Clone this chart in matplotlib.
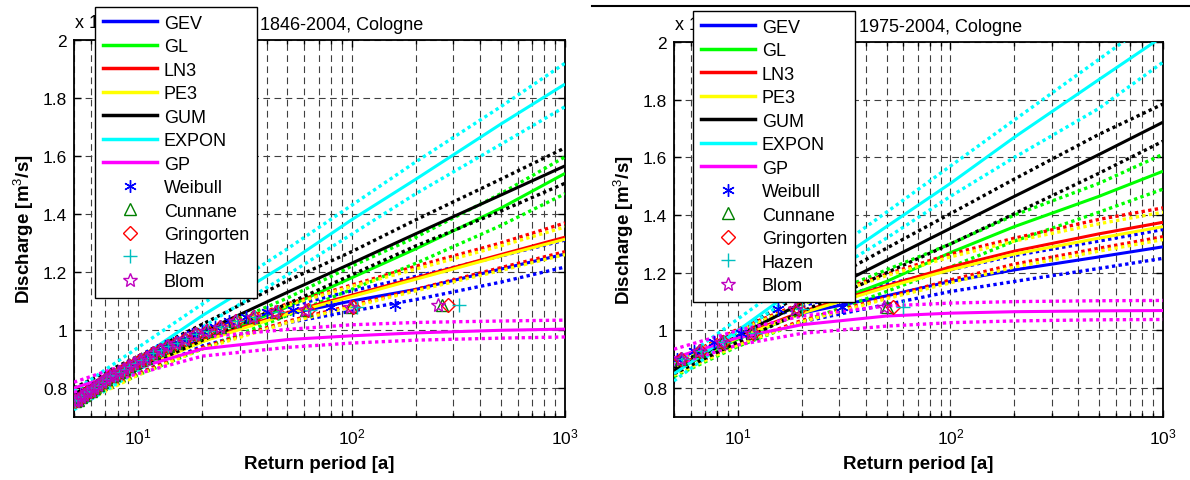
import numpy as np
import matplotlib
matplotlib.use('Agg')
import matplotlib.pyplot as plt
from matplotlib.lines import Line2D

plt.rcParams['font.family'] = 'Liberation Sans'
plt.rcParams['mathtext.fontset'] = 'custom'
plt.rcParams['mathtext.rm'] = 'Liberation Sans'
plt.rcParams['mathtext.bf'] = 'Liberation Sans:bold'

# return periods [a] at which the fitted quantiles are tabulated
T = [5, 10, 20, 50, 100, 200, 500, 1000]

# quantiles in 10^4 m3/s, annual maxima 1846-2004 (fit, lower, upper bound)
gev_a    = [0.76, 0.87, 0.970, 1.055, 1.100, 1.140, 1.210, 1.262]
gev_a_lo = [0.74, 0.85, 0.945, 1.025, 1.065, 1.105, 1.165, 1.217]
gev_a_hi = [0.78, 0.89, 0.990, 1.080, 1.135, 1.185, 1.255, 1.310]
gl_a     = [0.77, 0.87, 0.960, 1.080, 1.180, 1.280, 1.420, 1.540]
gl_a_lo  = [0.745, 0.845, 0.935, 1.050, 1.140, 1.230, 1.360, 1.470]
gl_a_hi  = [0.79, 0.89, 0.985, 1.110, 1.220, 1.320, 1.470, 1.597]
ln3_a    = [0.76, 0.87, 0.965, 1.060, 1.120, 1.180, 1.260, 1.320]
ln3_a_lo = [0.74, 0.85, 0.940, 1.030, 1.085, 1.140, 1.215, 1.270]
ln3_a_hi = [0.78, 0.89, 0.990, 1.090, 1.155, 1.220, 1.300, 1.369]
pe3_a    = [0.755, 0.865, 0.960, 1.055, 1.115, 1.175, 1.255, 1.313]
pe3_a_lo = [0.735, 0.845, 0.935, 1.025, 1.080, 1.135, 1.205, 1.260]
pe3_a_hi = [0.775, 0.885, 0.985, 1.085, 1.150, 1.210, 1.290, 1.355]
gum_a    = [0.78, 0.888, 0.993, 1.130, 1.230, 1.332, 1.465, 1.566]
gum_a_lo = [0.755, 0.865, 0.965, 1.090, 1.190, 1.290, 1.410, 1.506]
gum_a_hi = [0.80, 0.910, 1.020, 1.170, 1.270, 1.380, 1.520, 1.628]
exp_a    = [0.76, 0.90, 1.05, 1.23, 1.38, 1.52, 1.71, 1.848]
exp_a_lo = [0.725, 0.86, 1.01, 1.19, 1.33, 1.47, 1.64, 1.77]
exp_a_hi = [0.79, 0.94, 1.09, 1.28, 1.43, 1.58, 1.77, 1.92]
gp_a     = [0.80, 0.87, 0.935, 0.967, 0.980, 0.990, 0.999, 1.003]
gp_a_lo  = [0.785, 0.85, 0.910, 0.940, 0.955, 0.965, 0.972, 0.976]
gp_a_hi  = [0.82, 0.895, 0.975, 1.002, 1.018, 1.026, 1.031, 1.034]

# quantiles in 10^4 m3/s, annual maxima 1975-2004
gev_b    = [0.87, 0.98, 1.060, 1.120, 1.170, 1.210, 1.255, 1.290]
gev_b_lo = [0.85, 0.955, 1.030, 1.090, 1.135, 1.170, 1.215, 1.250]
gev_b_hi = [0.89, 1.00, 1.085, 1.160, 1.210, 1.260, 1.310, 1.350]
gl_b     = [0.86, 0.97, 1.060, 1.170, 1.270, 1.360, 1.465, 1.552]
gl_b_lo  = [0.84, 0.945, 1.030, 1.135, 1.220, 1.310, 1.410, 1.490]
gl_b_hi  = [0.88, 0.995, 1.090, 1.210, 1.300, 1.400, 1.510, 1.611]
ln3_b    = [0.87, 0.98, 1.065, 1.155, 1.220, 1.275, 1.335, 1.375]
ln3_b_lo = [0.85, 0.955, 1.035, 1.115, 1.175, 1.230, 1.285, 1.325]
ln3_b_hi = [0.89, 1.005, 1.095, 1.195, 1.265, 1.320, 1.385, 1.425]
pe3_b    = [0.865, 0.975, 1.060, 1.150, 1.210, 1.265, 1.320, 1.360]
pe3_b_lo = [0.845, 0.95, 1.030, 1.110, 1.165, 1.220, 1.275, 1.315]
pe3_b_hi = [0.885, 1.00, 1.090, 1.190, 1.255, 1.310, 1.370, 1.410]
gum_b    = [0.861, 0.981, 1.095, 1.243, 1.354, 1.465, 1.610, 1.722]
gum_b_lo = [0.85, 0.96, 1.065, 1.200, 1.300, 1.405, 1.545, 1.656]
gum_b_hi = [0.87, 1.00, 1.125, 1.285, 1.405, 1.525, 1.680, 1.785]
exp_b    = [0.85, 1.00, 1.16, 1.36, 1.51, 1.67, 1.87, 2.02]
exp_b_lo = [0.825, 0.99, 1.14, 1.32, 1.465, 1.60, 1.77, 1.93]
exp_b_hi = [0.88, 1.04, 1.20, 1.41, 1.57, 1.73, 1.94, 2.10]
gp_b     = [0.905, 0.975, 1.020, 1.050, 1.060, 1.065, 1.068, 1.069]
gp_b_lo  = [0.88, 0.95, 0.990, 1.015, 1.027, 1.033, 1.037, 1.038]
gp_b_hi  = [0.935, 1.00, 1.050, 1.085, 1.095, 1.100, 1.103, 1.104]

# largest observed annual maxima (10^4 m3/s), in descending order
amax_a = [1.086, 1.080, 1.069, 1.062, 1.045, 1.030, 1.010, 0.995, 0.985, 0.970,
          0.955, 0.945, 0.930, 0.920, 0.905, 0.895, 0.885, 0.875, 0.865, 0.855,
          0.845, 0.840, 0.830, 0.820, 0.810, 0.800, 0.790, 0.785, 0.775, 0.770,
          0.760, 0.755]
n_a = 159
amax_b = [1.083, 1.073, 0.990, 0.960, 0.930, 0.900, 0.880, 0.860]
n_b = 30

dist_names = ['GEV', 'GL', 'LN3', 'PE3', 'GUM', 'EXPON', 'GP']
dist_colors = ['#0000ff', '#00ff00', '#ff0000', '#ffff00', '#000000', '#00ffff', '#ff00ff']

# plotting positions: name, alpha, marker, colour, size
pp_methods = [
    ('Weibull', 0.0, (6, 2, 0), '#0000ff', 9),
    ('Cunnane', 0.4, '^', '#008000', 8),
    ('Gringorten', 0.44, 'D', '#ff0000', 7),
    ('Hazen', 0.5, '+', '#00bfbf', 10),
    ('Blom', 0.375, '*', '#bf00bf', 10),
]

curves_a = [(gev_a, gev_a_lo, gev_a_hi), (gl_a, gl_a_lo, gl_a_hi),
            (ln3_a, ln3_a_lo, ln3_a_hi), (pe3_a, pe3_a_lo, pe3_a_hi),
            (gum_a, gum_a_lo, gum_a_hi), (exp_a, exp_a_lo, exp_a_hi),
            (gp_a, gp_a_lo, gp_a_hi)]
curves_b = [(gev_b, gev_b_lo, gev_b_hi), (gl_b, gl_b_lo, gl_b_hi),
            (ln3_b, ln3_b_lo, ln3_b_hi), (pe3_b, pe3_b_lo, pe3_b_hi),
            (gum_b, gum_b_lo, gum_b_hi), (exp_b, exp_b_lo, exp_b_hi),
            (gp_b, gp_b_lo, gp_b_hi)]

W, H = 1190, 481
fig = plt.figure(figsize=(W / 100, H / 100), dpi=100)


def draw_panel(rect, curves, amax, n, title, legend_xy):
    ax = fig.add_axes(rect)
    dotted = (0, (1, 1))
    for (fit, lo, hi), c in zip(curves, dist_colors):
        ax.plot(T, fit, color=c, lw=2.2, solid_capstyle='butt', zorder=3)
        ax.plot(T, lo, color=c, lw=2.4, ls=dotted, dash_capstyle='butt', zorder=3)
        ax.plot(T, hi, color=c, lw=2.4, ls=dotted, dash_capstyle='butt', zorder=3)

    rank = np.arange(1, len(amax) + 1)
    for name, a, mk, c, ms in pp_methods:
        tp = (n + 1 - 2 * a) / (rank - a)
        ax.plot(tp, amax, ls='none', marker=mk, ms=ms, mec=c, mfc='none',
                mew=1.0, zorder=4)

    ax.set_xscale('log')
    ax.set_xlim(5, 1000)
    ax.set_ylim(0.7, 2.0)
    ax.set_yticks([0.8, 1.0, 1.2, 1.4, 1.6, 1.8, 2.0])
    ax.set_yticklabels(['0.8', '1', '1.2', '1.4', '1.6', '1.8', '2'])
    ax.tick_params(which='both', direction='in', top=True, right=True,
                   labelsize=12.5, width=1.0)
    ax.tick_params(which='major', length=5)
    ax.tick_params(which='minor', length=3)
    ax.tick_params(axis='x', which='major', pad=7)
    ax.tick_params(axis='y', which='major', pad=5)
    grid_kw = dict(color='0.25', lw=0.8, ls=(0, (6, 4)))
    ax.grid(True, which='major', axis='both', **grid_kw)
    ax.grid(True, which='minor', axis='x', **grid_kw)
    for sp in ax.spines.values():
        sp.set_linewidth(1.3)

    ax.set_xlabel('Return period [a]', fontsize=13.5, fontweight='bold', labelpad=6)
    ax.set_ylabel('Discharge [m$^3$/s]', fontsize=13.5, fontweight='bold', labelpad=5)
    ax.set_title(title, fontsize=13, pad=8)
    ax.text(0.0, 1.02, r'x 10$^4$', transform=ax.transAxes, fontsize=13,
            ha='left', va='bottom', zorder=1)

    handles = [Line2D([], [], color=c, lw=2.5) for c in dist_colors]
    handles += [Line2D([], [], ls='none', marker=mk, ms=ms, mec=c, mfc='none', mew=1.0)
                for _, _, mk, c, ms in pp_methods]
    labels = dist_names + [m[0] for m in pp_methods]
    leg = ax.legend(handles, labels, loc='upper left',
                    bbox_to_anchor=legend_xy, bbox_transform=fig.transFigure,
                    fontsize=13, frameon=True, fancybox=False, framealpha=1,
                    edgecolor='k', handlelength=3.0, handletextpad=0.4,
                    labelspacing=0.36, borderpad=0.42, borderaxespad=0,
                    numpoints=1)
    leg.get_frame().set_linewidth(1.0)
    leg.set_zorder(10)
    return ax


draw_panel([74 / W, 1 - 418 / H, (565 - 74) / W, (418 - 41) / H],
           curves_a, amax_a, n_a, 'AMS 1846-2004, Cologne', (95 / W, 1 - 8 / H))
draw_panel([674 / W, 1 - 418 / H, (1163 - 674) / W, (418 - 43) / H],
           curves_b, amax_b, n_b, 'AMS 1975-2004, Cologne', (693 / W, 1 - 12 / H))

# frame edge of the neighbouring figure along the top
fig.add_artist(Line2D([592 / W, 1.0], [1 - 7 / H, 1 - 7 / H], color='k', lw=1.5,
                      transform=fig.transFigure))

fig.savefig('out.png', dpi=100)
